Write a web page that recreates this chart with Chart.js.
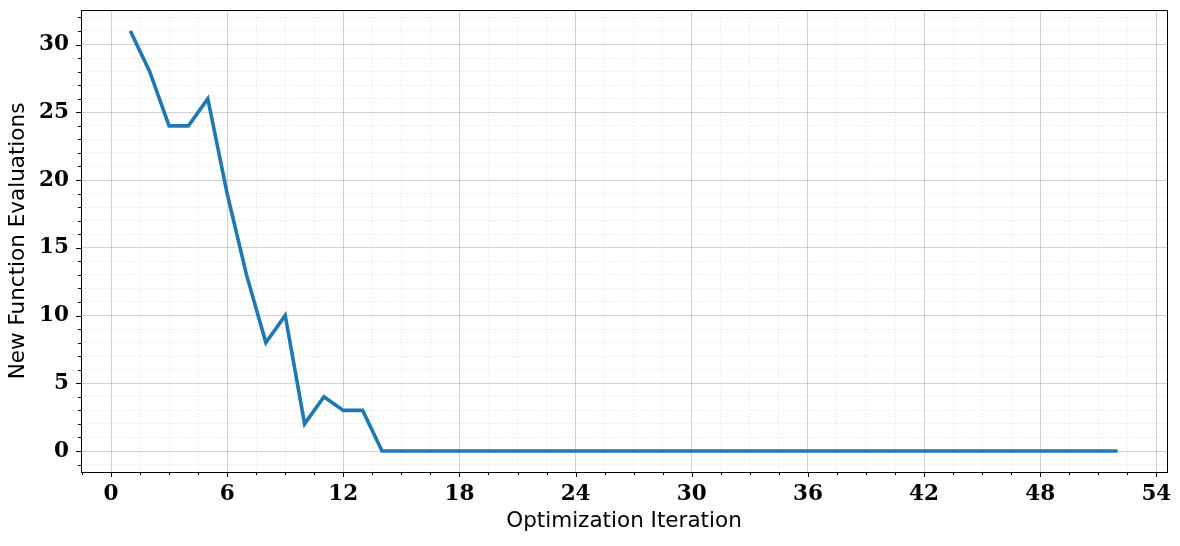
<!DOCTYPE html>
<html>
<head>
<meta charset="utf-8">
<script src="https://cdn.jsdelivr.net/npm/chart.js@4/dist/chart.umd.min.js"></script>
<style>
html,body{margin:0;padding:0;background:#fff;}
#wrap{width:1180px;height:546px;position:relative;}
</style>
</head>
<body>
<div id="wrap"><canvas id="c"></canvas></div>
<script>
const iterations = [1,2,3,4,5,6,7,8,9,10,11,12,13,14,15,16,17,18,19,20,21,22,23,24,25,26,27,28,29,30,31,32,33,34,35,36,37,38,39,40,41,42,43,44,45,46,47,48,49,50,51,52];
const newEvals = [31,28,24,24,26,19,13,8,10,2,4,3,3,0,0,0,0,0,0,0,0,0,0,0,0,0,0,0,0,0,0,0,0,0,0,0,0,0,0,0,0,0,0,0,0,0,0,0,0,0,0,0];
const xTickStep = 1.5, xMajorEvery = 6;
const yTickStep = 1, yMajorEvery = 5;
const xTitle = 'Optimization Iteration';
const yTitle = 'New Function Evaluations';

const points = iterations.map((x, i) => ({x: x, y: newEvals[i]}));

function isMajor(v, every) {
  const r = Math.abs(v / every - Math.round(v / every));
  return r < 1e-6;
}

const tickFont = {family: 'DejaVu Serif', size: 21.5, weight: 'bold'};
const titleFont = {family: 'DejaVu Sans', size: 21.5, weight: 'normal'};

const framePlugin = {
  id: 'frame',
  afterDraw(chart) {
    const ctx = chart.ctx;
    const a = chart.chartArea;
    ctx.save();
    ctx.strokeStyle = '#000';
    ctx.lineWidth = 1;
    // tick marks
    const xs = chart.scales.x, ys = chart.scales.y;
    ctx.beginPath();
    xs.ticks.forEach(t => {
      const p = Math.round(xs.getPixelForValue(t.value)) + 0.5;
      const len = isMajor(t.value, xMajorEvery) ? 5 : 3;
      ctx.moveTo(p, a.bottom);
      ctx.lineTo(p, a.bottom + len);
    });
    ys.ticks.forEach(t => {
      const p = Math.round(ys.getPixelForValue(t.value)) + 0.5;
      const len = isMajor(t.value, yMajorEvery) ? 5 : 3;
      ctx.moveTo(a.left, p);
      ctx.lineTo(a.left - len, p);
    });
    ctx.stroke();
    ctx.strokeRect(Math.round(a.left) + 0.5, Math.round(a.top) + 0.5,
                   Math.round(a.right - a.left), Math.round(a.bottom - a.top));
    ctx.restore();
  }
};

new Chart(document.getElementById('c'), {
  type: 'line',
  data: {
    datasets: [{
      data: points,
      borderColor: '#1f77b4',
      borderWidth: 3.6,
      pointRadius: 0,
      pointHoverRadius: 0,
      tension: 0,
      fill: false
    }]
  },
  options: {
    responsive: true,
    maintainAspectRatio: false,
    animation: false,
    events: [],
    layout: {padding: {top: 10, right: 13, left: 0, bottom: 0}},
    plugins: {legend: {display: false}, tooltip: {enabled: false}},
    scales: {
      x: {
        type: 'linear',
        min: -1.55,
        max: 54.55,
        border: {
          display: false,
          dash: ctx => (ctx.tick && isMajor(ctx.tick.value, xMajorEvery)) ? [] : [1.5, 2]
        },
        grid: {
          color: ctx => (ctx.tick && isMajor(ctx.tick.value, xMajorEvery)) ? 'rgba(0,0,0,0.2)' : 'rgba(0,0,0,0.12)',
          lineWidth: ctx => (ctx.tick && isMajor(ctx.tick.value, xMajorEvery)) ? 0.9 : 0.7,
          drawTicks: true,
          tickLength: 5,
          tickColor: 'rgba(0,0,0,0)'
        },
        ticks: {
          stepSize: xTickStep,
          includeBounds: false,
          autoSkip: false,
          maxRotation: 0,
          padding: 4.5,
          color: '#000',
          font: tickFont,
          callback: v => isMajor(v, xMajorEvery) ? String(Math.round(v)) : ''
        },
        title: {
          display: true,
          text: xTitle,
          color: '#000',
          font: titleFont,
          padding: {top: 0, bottom: 11.5}
        },
        afterFit(s) { s.height = 74; s.paddingLeft = 0; s.paddingRight = 0; }
      },
      y: {
        type: 'linear',
        min: -1.55,
        max: 32.55,
        border: {
          display: false,
          dash: ctx => (ctx.tick && isMajor(ctx.tick.value, yMajorEvery)) ? [] : [1.5, 2]
        },
        grid: {
          color: ctx => (ctx.tick && isMajor(ctx.tick.value, yMajorEvery)) ? 'rgba(0,0,0,0.2)' : 'rgba(0,0,0,0.12)',
          lineWidth: ctx => (ctx.tick && isMajor(ctx.tick.value, yMajorEvery)) ? 0.9 : 0.7,
          drawTicks: true,
          tickLength: 5,
          tickColor: 'rgba(0,0,0,0)'
        },
        ticks: {
          stepSize: yTickStep,
          includeBounds: false,
          autoSkip: false,
          padding: 7,
          color: '#000',
          font: tickFont,
          callback: v => isMajor(v, yMajorEvery) ? String(Math.round(v)) : ''
        },
        title: {
          display: true,
          text: yTitle,
          color: '#000',
          font: titleFont,
          padding: {top: 5.5, bottom: 0}
        },
        afterFit(s) { s.width = 81; s.paddingTop = 0; s.paddingBottom = 0; }
      }
    }
  },
  plugins: [framePlugin]
});
</script>
</body>
</html>
